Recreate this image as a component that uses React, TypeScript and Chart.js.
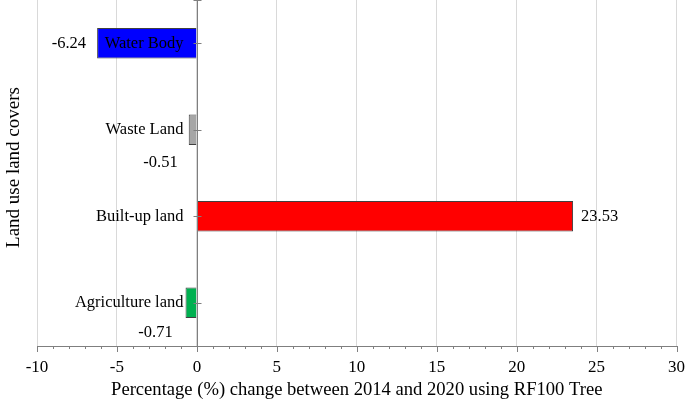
import React, { useEffect, useRef } from 'react';
import { Chart, registerables } from 'chart.js';

Chart.register(...registerables);

const categories = ['Water Body', 'Waste Land', 'Built-up land', 'Agriculture land'];
const changes = [-6.24, -0.51, 23.53, -0.71];
const barColors = ['#0000ff', '#a6a6a6', '#ff0000', '#00b050'];
const xMin = -10;
const xMax = 30;
const xStep = 5;
const xTitle = 'Percentage (%) change between 2014 and 2020 using RF100 Tree';
const yTitle = 'Land use land covers';

const FAMILY = "'Liberation Serif', 'Times New Roman', serif";
const LABEL_FONT = `16.5px ${FAMILY}`;
const YTITLE_FONT = `19px ${FAMILY}`;

// label placement per bar (style, not data)
const valuePlacement = [
  { mode: 'left', dx: -11, dy: 0 },
  { mode: 'below', dx: -37, dy: 33 },
  { mode: 'right', dx: 8, dy: 0 },
  { mode: 'below', dx: -42, dy: 30 },
];

const overlayPlugin = {
  id: 'overlay',
  afterDatasetsDraw(chart: any) {
    const ctx = chart.ctx;
    const xs = chart.scales.x;
    const ys = chart.scales.y;
    const area = chart.chartArea;
    const x0 = Math.round(xs.getPixelForValue(0)) + 0.5;
    ctx.save();
    ctx.strokeStyle = '#7f7f7f';
    ctx.lineWidth = 1;
    // vertical axis at zero
    ctx.beginPath();
    ctx.moveTo(x0, area.top);
    ctx.lineTo(x0, area.bottom);
    ctx.stroke();
    // top tick
    ctx.beginPath();
    ctx.moveTo(x0 - 4, area.top + 0.5);
    ctx.lineTo(x0 + 4, area.top + 0.5);
    ctx.stroke();
    // category ticks
    categories.forEach((_, i) => {
      const y = Math.round(ys.getPixelForValue(i)) + 0.5;
      ctx.beginPath();
      ctx.moveTo(x0 - 4, y);
      ctx.lineTo(x0 + 4, y);
      ctx.stroke();
    });
    // x ticks (major + minor)
    for (let v = xMin; v <= xMax; v++) {
      const px = Math.round(xs.getPixelForValue(v)) + 0.5;
      const len = v % xStep === 0 ? 6 : 3;
      ctx.beginPath();
      ctx.moveTo(px, area.bottom);
      ctx.lineTo(px, area.bottom + len);
      ctx.stroke();
    }
    // labels
    ctx.font = LABEL_FONT;
    ctx.fillStyle = '#000';
    ctx.textBaseline = 'middle';
    const meta = chart.getDatasetMeta(0);
    categories.forEach((c, i) => {
      const bar = meta.data[i];
      const y = bar.y;
      ctx.textAlign = 'right';
      ctx.fillText(c, x0 - 14, y);
      const txt = changes[i].toFixed(2);
      const p = valuePlacement[i];
      if (p.mode === 'left') {
        ctx.textAlign = 'right';
        ctx.fillText(txt, bar.x + p.dx, y + p.dy);
      } else if (p.mode === 'right') {
        ctx.textAlign = 'left';
        ctx.fillText(txt, bar.x + p.dx, y + p.dy);
      } else {
        ctx.textAlign = 'center';
        ctx.fillText(txt, x0 + p.dx, y + p.dy);
      }
    });
    // y title
    ctx.save();
    ctx.font = YTITLE_FONT;
    ctx.translate(14, 167.5);
    ctx.rotate(-Math.PI / 2);
    ctx.textAlign = 'center';
    ctx.fillText(yTitle, 0, 0);
    ctx.restore();
    ctx.restore();
  },
};

export default function App() {
  const ref = useRef<HTMLCanvasElement>(null);
  useEffect(() => {
    if (!ref.current) return;
    const chart = new Chart(ref.current, {
      type: 'bar',
      data: {
        labels: categories,
        datasets: [
          {
            data: changes,
            backgroundColor: barColors,
            borderColor: '#404040',
            borderWidth: 1,
            barPercentage: 0.35,
            categoryPercentage: 1,
          },
        ],
      },
      options: {
        indexAxis: 'y',
        animation: false,
        responsive: false,
        devicePixelRatio: 1,
        layout: { padding: { left: 37, right: 8, top: 0, bottom: 0 } },
        plugins: { legend: { display: false }, tooltip: { enabled: false } },
        scales: {
          x: {
            type: 'linear',
            min: xMin,
            max: xMax,
            ticks: {
              stepSize: xStep,
              color: '#000',
              font: { family: FAMILY, size: 17, lineHeight: '43px' },
              padding: 0,
            },
            grid: { color: '#d9d9d9', drawTicks: false, lineWidth: 1 },
            border: { display: true, color: '#7f7f7f' },
            title: {
              display: true,
              text: xTitle,
              color: '#000',
              font: { family: FAMILY, size: 18.6, lineHeight: '2px' },
              padding: { top: 0, bottom: 12 },
            },
          },
          y: { type: 'category', display: false, offset: true },
        },
      },
      plugins: [overlayPlugin],
    });
    return () => chart.destroy();
  }, []);
  return (
    <div style={{ position: 'absolute', left: 0, top: 0, width: 685, height: 403 }}>
      <canvas ref={ref} width={685} height={403} />
    </div>
  );
}
